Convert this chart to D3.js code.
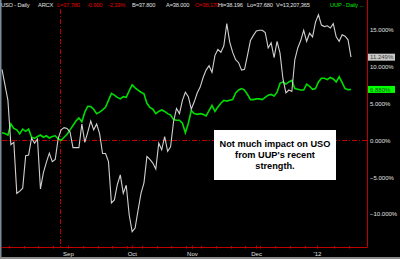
<!DOCTYPE html>
<html><head><meta charset="utf-8">
<script src="https://cdn.jsdelivr.net/npm/d3@7"></script>
<style>body{margin:0;background:#000;overflow:hidden}svg{display:block}</style>
</head><body>
<script>
// USO daily % change since start (white line), one value per trading day
const usoValues = [9.6,7.5,5.4,-0.6,-0.3,-7.2,-6.9,-6.5,-2.1,-2.0,
0.3,-0.4,0.15,-6.6,-4.4,-3.0,-1.75,-2.9,-2.6,0.25,
1.4,1.7,1.6,1.1,-1.0,-1.0,-1.0,2.2,-0.3,1.1,
2.6,1.4,2.2,0.9,-1.8,-1.8,-2.9,-8.5,-8.1,-6.0,
-4.7,-7.2,-6.1,-10.1,-12.4,-11.9,-9.5,-7.2,-5.8,-2.2,
-2.6,-3.1,-3.9,-0.4,-1.3,0.5,-1.5,-0.9,2.5,4.3,
3.6,5.4,6.5,5.9,4.2,5.2,6.4,7.2,8.5,9.5,
10.1,9.2,11.5,12.3,11.9,12.8,15.8,13.3,11.9,10.9,
10.5,9.5,9.6,11.5,13.5,14.2,14.8,14.9,14.9,14.6,
12.5,13.2,11.2,13.4,11.8,8.3,6.4,6.8,6.6,10.9,
12.5,13.5,14.9,13.4,14.5,14.0,16.0,17.0,15.6,15.4,
15.5,15.2,15.8,14.0,13.4,14.3,14.1,13.6,11.249];
// UUP daily % change (green line)
const uupValues = [1.0,0.9,0.7,2.2,1.6,1.4,0.85,1.5,1.2,1.5,
0.4,0.25,0.5,0.7,0.4,0.6,0.3,0.5,0.6,0.2,
0.0,0.4,0.8,1.4,2.0,2.6,3.0,2.5,3.8,4.6,
4.55,4.2,3.6,3.8,4.1,4.45,5.4,6.35,6.1,5.8,
5.6,5.9,5.8,6.7,7.5,7.1,6.8,6.5,6.3,5.0,
4.45,4.2,3.6,3.9,4.1,3.9,3.6,3.4,2.8,2.7,
2.7,2.3,1.0,2.3,4.0,3.6,3.5,3.6,3.5,3.3,
4.0,4.7,3.9,4.5,5.0,5.4,5.3,5.4,5.5,6.4,
6.8,7.0,6.8,6.2,5.5,5.5,5.6,5.6,5.5,5.8,
6.1,6.2,6.0,6.5,7.7,7.9,7.6,7.9,8.1,7.0,
6.9,6.8,6.8,7.6,7.3,6.9,7.0,7.9,8.4,8.4,
8.2,8.5,8.3,7.9,8.6,7.8,7.0,6.85,6.88];
const xTickDays = [22.3,43.9,64.2,85.9,106.5];
const xTickLabels = ["Sep","Oct","Nov","Dec","'12"];
const yTickValues = [-10,-5,0,5,10,15];
const markerDay = 19.6;
const lastUso = "11.249%", lastUup = "6.880%";
const annotation = ["Not much impact on USO","from UUP's recent","strength."];
const header = [
  ["USO - Daily","#e0e0e0",1],["ARCX","#e0e0e0",38],["L=37.780","#e00000",57],
  ["-0.900","#e00000",87],["-2.33%","#e00000",108],["B=37.800","#e0e0e0",132],
  ["A=38.000","#e0e0e0",166],["O=38.170","#e00000",195],["Hi=38.196","#e0e0e0",218],
  ["Lo=37.680","#e0e0e0",247],["V=13,207,365","#e0e0e0",276],["UUP - Daily ...","#00e000",330]
];

const W=400,H=259;
const svg=d3.select("body").append("svg").attr("width",W).attr("height",H)
  .style("background","#000").style("font-family","'Liberation Sans',Arial,sans-serif");
const x=d3.scaleLinear().domain([0,usoValues.length-1]).range([2,351]);
const y=d3.scaleLinear().domain([0,15]).range([140.2,29.5]);
const plotR=367, axisY=247;
const red="#c00000";

// frame
svg.append("rect").attr("x",0).attr("y",0).attr("width",1.5).attr("height",H).attr("fill","#7a8a9a");
svg.append("rect").attr("x",0).attr("y",257).attr("width",W).attr("height",2).attr("fill","#8a8a8a");
svg.append("line").attr("x1",plotR+0.5).attr("x2",plotR+0.5).attr("y1",0).attr("y2",axisY).attr("stroke",red);
svg.append("line").attr("x1",1.5).attr("x2",plotR+0.5).attr("y1",axisY+0.5).attr("y2",axisY+0.5).attr("stroke",red);

// reference dash-dot lines
svg.append("line").attr("x1",2).attr("x2",plotR).attr("y1",Math.round(y(0))+0.5).attr("y2",Math.round(y(0))+0.5)
  .attr("stroke",red).attr("stroke-dasharray","5,2,1,2");
svg.append("line").attr("x1",Math.round(x(markerDay))+0.5).attr("x2",Math.round(x(markerDay))+0.5).attr("y1",9).attr("y2",axisY)
  .attr("stroke",red).attr("stroke-dasharray","5,2,1,2");

// x axis
const ax=d3.axisBottom(x).tickValues(xTickDays).tickFormat((d,i)=>xTickLabels[i]).tickSize(3).tickPadding(2);
const g=svg.append("g").attr("transform",`translate(0,${axisY-1.5})`).call(ax);
g.select(".domain").remove();
g.selectAll(".tick line").attr("stroke",red);
g.selectAll(".tick text").attr("fill","#e0e0e0").style("font-size","6px").attr("y",6);
const minor=d3.range(xTickDays[0]-20,usoValues.length,5).filter(d=>d>0&&!xTickDays.some(t=>Math.abs(t-d)<1));
svg.append("g").selectAll("line").data(minor).join("line")
  .attr("x1",d=>Math.round(x(d))+0.5).attr("x2",d=>Math.round(x(d))+0.5)
  .attr("y1",axisY-1).attr("y2",axisY+1.5).attr("stroke",red);

// y labels (right)
const ay=d3.axisRight(y).tickValues(yTickValues).tickFormat(d=>d3.format(".3f")(d)+"%").tickSize(0).tickPadding(3);
const gy=svg.append("g").attr("transform",`translate(${plotR},0)`).call(ay);
gy.select(".domain").remove();
gy.selectAll(".tick text").attr("fill","#e0e0e0").style("font-size","6px");

// lines
const line=d3.line().x((d,i)=>x(i)).y(d=>y(d));
svg.append("path").datum(uupValues).attr("d",line).attr("fill","none").attr("stroke","#00dd00").attr("stroke-width",1.6);
svg.append("path").datum(usoValues).attr("d",line).attr("fill","none").attr("stroke","#d0d0d0").attr("stroke-width",1.1);

// last value badges
function badge(txt,val,bg,fg){
  const cy=y(val);
  svg.append("rect").attr("x",368).attr("y",cy-3.5).attr("width",27).attr("height",7).attr("fill",bg);
  svg.append("text").attr("x",370).attr("y",cy).attr("dy","0.35em").attr("fill",fg).style("font-size","6px").text(txt);
}
badge(lastUso,usoValues[usoValues.length-1],"#c8c8c8","#404040");
badge(lastUup,uupValues[uupValues.length-1],"#00ff00","#205020");

// header
svg.append("g").selectAll("text").data(header).join("text")
  .attr("x",d=>d[2]).attr("y",7).attr("fill",d=>d[1]).style("font-size","5.7px")
  .style("letter-spacing","-0.15px").text(d=>d[0]);

// annotation box
svg.append("rect").attr("x",214).attr("y",130).attr("width",122).attr("height",50).attr("fill","#fff");
svg.append("g").selectAll("text").data(annotation).join("text")
  .attr("x",275).attr("y",(d,i)=>147+i*10.8).attr("text-anchor","middle")
  .attr("fill","#000").style("font-size","9.2px").style("font-weight","bold").text(d=>d);
</script>
</body></html>
